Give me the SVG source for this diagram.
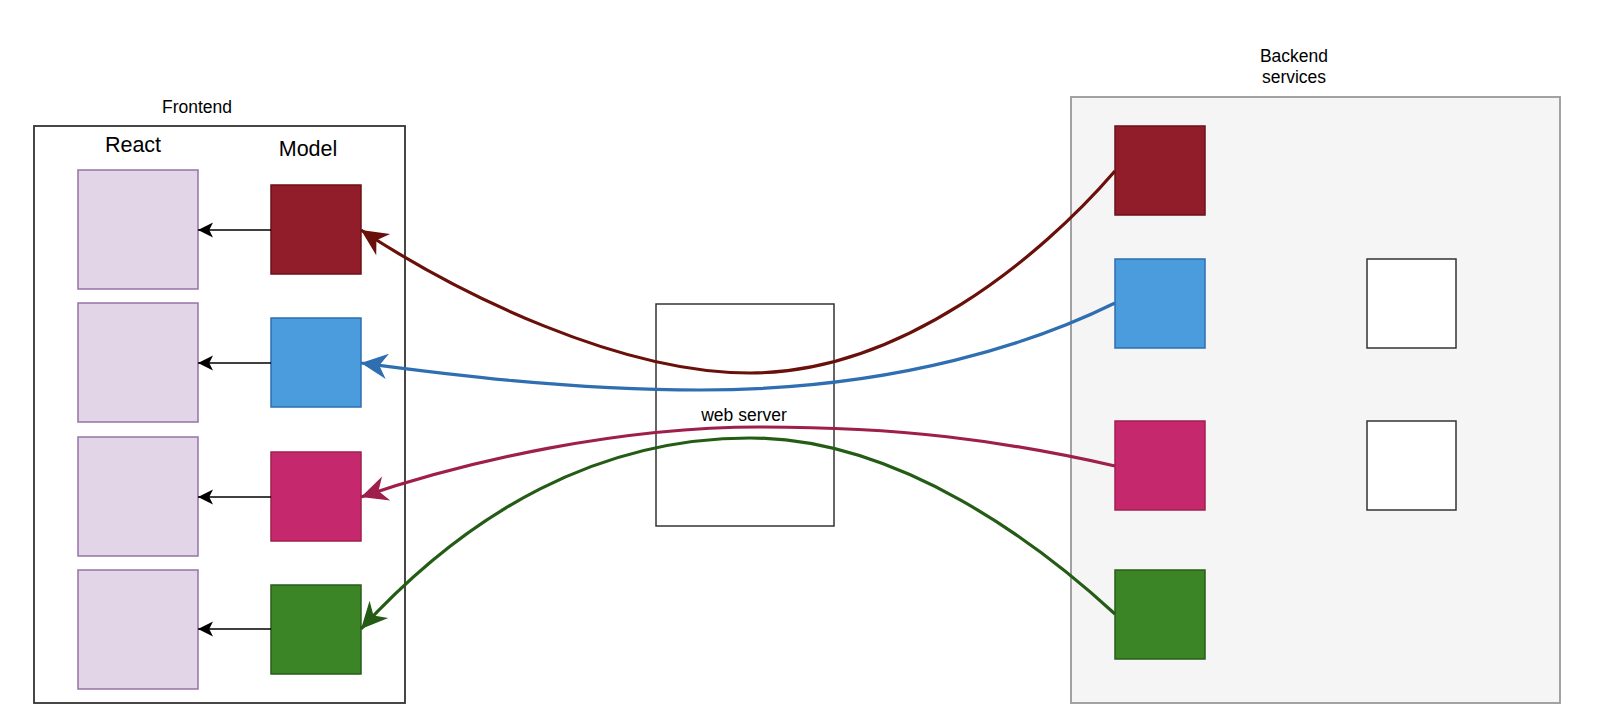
<svg xmlns="http://www.w3.org/2000/svg" width="1600" height="714" viewBox="0 0 1600 714">
<defs>
<style>
text{font-family:"Liberation Sans",Arial,Helvetica,sans-serif;fill:#000;text-anchor:middle}
.lbl{font-size:17.5px}
.hdr{font-size:21.5px}
.react{fill:#e1d5e7;stroke:#9673a6;stroke-width:1.5}
.red{fill:#911c2a;stroke:#6c1119;stroke-width:1.5}
.blue{fill:#4b9cdc;stroke:#2e6fb0;stroke-width:1.5}
.pink{fill:#c5286c;stroke:#a11f4d;stroke-width:1.5}
.green{fill:#3b8526;stroke:#285d19;stroke-width:1.5}
.white{fill:#fff;stroke:#333;stroke-width:1.5}
.plain{fill:#fff;stroke:#333;stroke-width:1.5}
.bk{fill:#f5f5f5;stroke:#999;stroke-width:1.8}
.cv{fill:none;stroke-width:3.2}
.ln{fill:none;stroke:#000;stroke-width:1.3}
</style>
<marker id="aBlack" markerUnits="userSpaceOnUse" orient="auto" markerWidth="20" markerHeight="20" refX="0" refY="0" viewBox="-14 -8 16 16" overflow="visible"><path d="M-12,-6 L0,0 L-12,6 L-9,0 Z" fill="#000"/></marker>
<marker id="aRed" markerUnits="userSpaceOnUse" orient="auto" markerWidth="30" markerHeight="30" viewBox="-24 -12 26 24" refX="0" refY="0" overflow="visible"><path d="M-23,-11 L0,0 L-23,11 L-16,0 Z" fill="#6a100b"/></marker>
<marker id="aBlue" markerUnits="userSpaceOnUse" orient="auto" markerWidth="30" markerHeight="30" viewBox="-24 -12 26 24" refX="0" refY="0" overflow="visible"><path d="M-23,-11 L0,0 L-23,11 L-16,0 Z" fill="#2f6fb1"/></marker>
<marker id="aPink" markerUnits="userSpaceOnUse" orient="auto" markerWidth="30" markerHeight="30" viewBox="-24 -12 26 24" refX="0" refY="0" overflow="visible"><path d="M-23,-11 L0,0 L-23,11 L-16,0 Z" fill="#9e1f4b"/></marker>
<marker id="aGreen" markerUnits="userSpaceOnUse" orient="auto" markerWidth="30" markerHeight="30" viewBox="-24 -12 26 24" refX="0" refY="0" overflow="visible"><path d="M-23,-11 L0,0 L-23,11 L-16,0 Z" fill="#245c16"/></marker>
</defs>
<rect width="1600" height="714" fill="#fff"/>

<g id="frontend">
<rect x="34" y="126" width="371" height="577" fill="#fff" stroke="#333" stroke-width="1.8"/>
<text class="lbl" x="197" y="113">Frontend</text>
<text class="hdr" x="133" y="152">React</text>
<text class="hdr" x="308" y="156">Model</text>
</g>
<g id="react1"><rect class="react" x="78" y="170" width="120" height="119"/></g>
<g id="react2"><rect class="react" x="78" y="303" width="120" height="119"/></g>
<g id="react3"><rect class="react" x="78" y="437" width="120" height="119"/></g>
<g id="react4"><rect class="react" x="78" y="570" width="120" height="119"/></g>
<g id="model1"><rect class="red" x="271" y="185" width="90" height="89"/></g>
<g id="model2"><rect class="blue" x="271" y="318" width="90" height="89"/></g>
<g id="model3"><rect class="pink" x="271" y="452" width="90" height="89"/></g>
<g id="model4"><rect class="green" x="271" y="585" width="90" height="89"/></g>

<g id="webserver">
<rect class="plain" x="656" y="304" width="178" height="222"/>
<text class="lbl" x="744" y="421">web server</text>
</g>

<g id="backend">
<rect class="bk" x="1071" y="97" width="489" height="606"/>
<text class="lbl" x="1294" y="62">Backend</text>
<text class="lbl" x="1294" y="83">services</text>
</g>
<g id="svc1"><rect class="red" x="1115" y="126" width="90" height="89"/></g>
<g id="svc2"><rect class="blue" x="1115" y="259" width="90" height="89"/></g>
<g id="svc3"><rect class="pink" x="1115" y="421" width="90" height="89"/></g>
<g id="svc4"><rect class="green" x="1115" y="570" width="90" height="89"/></g>
<g id="svc5"><rect class="white" x="1367" y="259" width="89" height="89"/></g>
<g id="svc6"><rect class="white" x="1367" y="421" width="89" height="89"/></g>

<g id="connectors">
<path class="ln" d="M271,230 L198,230" marker-end="url(#aBlack)"/>
<path class="ln" d="M271,363 L198,363" marker-end="url(#aBlack)"/>
<path class="ln" d="M271,497 L198,497" marker-end="url(#aBlack)"/>
<path class="ln" d="M271,629 L198,629" marker-end="url(#aBlack)"/>
<path class="cv" stroke="#6a100b" d="M1115,171 C1040,258 900,373 750,373 C620,373 460,295 361,230" marker-end="url(#aRed)"/>
<path class="cv" stroke="#2f6fb1" d="M1115,303 C1040,340 900,390 700,390 C560,390 430,372 361,363" marker-end="url(#aBlue)"/>
<path class="cv" stroke="#9e1f4b" d="M1115,466 C1000,440 900,427 760,427 C620,427 470,460 361,497" marker-end="url(#aPink)"/>
<path class="cv" stroke="#245c16" d="M1115,614 C1040,545 900,438 750,438 C600,438 470,510 361,629" marker-end="url(#aGreen)"/>
</g>
</svg>
